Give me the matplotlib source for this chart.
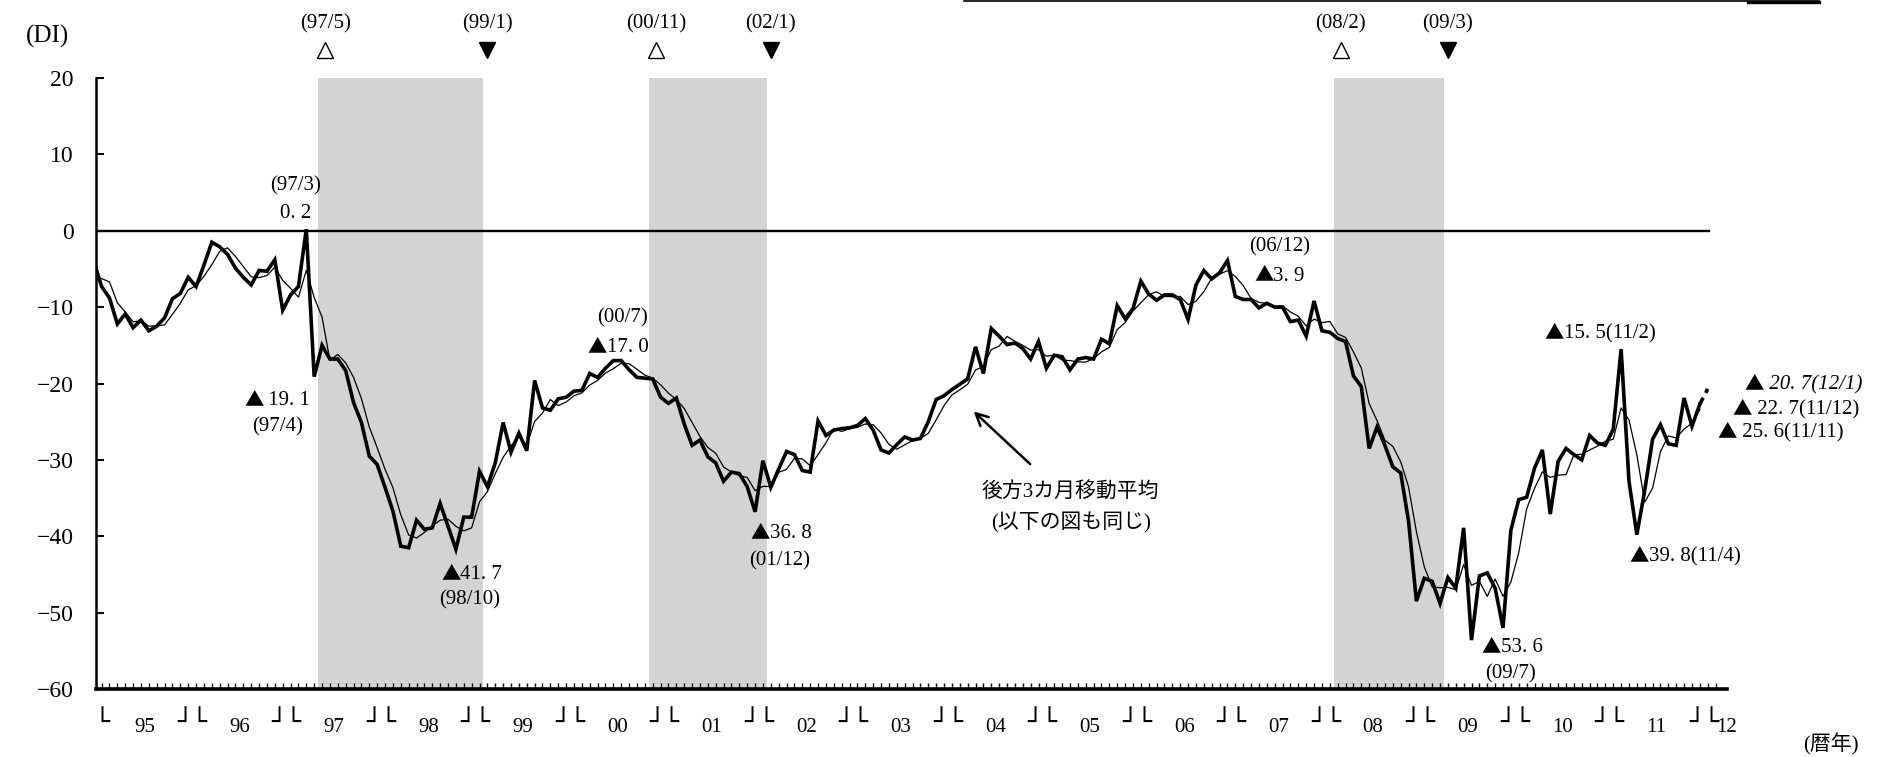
import numpy as np
import pandas as pd
import matplotlib
matplotlib.use("Agg")
import matplotlib.pyplot as plt
from matplotlib.lines import Line2D
from matplotlib.offsetbox import TextArea, HPacker, AnnotationBbox

# ---------------- data (monthly DI) ----------------
di_1994 = [-7.5, -4.0]  # 1994 Nov, Dec
di_1995 = [-7.3, -8.8, -12.2, -10.9, -12.7, -11.7, -13.1, -12.5, -11.4, -8.9, -8.2, -6.1]
di_1996 = [-7.3, -4.5, -1.5, -2.1, -3.1, -4.9, -6.1, -7.1, -5.2, -5.3, -3.8, -10.4]
di_1997 = [-8.4, -7.3, 0.2, -19.1, -15.0, -16.8, -16.8, -18.3, -22.5, -25.1, -29.5, -30.6]
di_1998 = [-33.6, -36.7, -41.3, -41.5, -37.9, -39.1, -38.9, -35.7, -38.7, -41.7, -37.5, -37.5]
di_1999 = [-31.5, -33.5, -30.4, -25.1, -29.0, -26.5, -28.8, -19.6, -23.2, -23.5, -22.0, -21.8]
di_2000 = [-21.0, -20.9, -18.7, -19.2, -18.0, -17.0, -17.0, -18.2, -19.2, -19.3, -19.4, -21.8]
di_2001 = [-22.6, -21.9, -25.3, -28.1, -27.4, -29.6, -30.4, -32.8, -31.6, -31.8, -33.5, -36.8]
di_2002 = [-30.1, -33.6, -31.2, -28.9, -29.3, -31.4, -31.6, -24.9, -26.8, -26.1, -25.9, -25.8]
di_2003 = [-25.5, -24.6, -26.1, -28.7, -29.1, -28.0, -27.0, -27.4, -27.2, -25.0, -22.1, -21.6]
di_2004 = [-20.8, -20.1, -19.4, -15.2, -18.7, -12.8, -13.8, -14.9, -14.7, -15.4, -16.8, -14.5]
di_2005 = [-18.0, -16.3, -16.5, -18.2, -16.8, -16.6, -16.8, -14.2, -14.8, -9.8, -11.5, -10.2]
di_2006 = [-6.6, -8.3, -9.1, -8.4, -8.4, -9.0, -11.6, -7.1, -5.2, -6.3, -5.5, -3.9]
di_2007 = [-8.6, -9.0, -9.0, -10.1, -9.5, -10.0, -10.0, -11.9, -11.7, -13.8, -9.2, -13.1]
di_2008 = [-13.3, -14.1, -14.5, -19.0, -20.4, -28.5, -25.7, -28.1, -30.9, -31.7, -38.0, -48.5]
di_2009 = [-45.5, -45.9, -48.8, -45.4, -46.8, -38.9, -53.6, -45.2, -44.8, -46.8, -52.0, -39.2]
di_2010 = [-35.2, -34.9, -31.1, -28.7, -37.1, -30.2, -28.5, -29.3, -30.0, -26.8, -27.8, -28.1]
di_2011 = [-26.0, -15.5, -32.8, -39.8, -34.0, -27.3, -25.4, -27.9, -28.1, -21.9, -25.6, -22.7]
di_2012 = [-20.7]

year_labels = ["95", "96", "97", "98", "99", "00", "01", "02", "03", "04", "05",
               "06", "07", "08", "09", "10", "11"]
# recession shading (peak month index, trough month index; 0 = 1995/1)
peaks = [28, 70, 157]
troughs = [48, 84, 170]
peak_labels = ["(97/5)", "(00/11)", "(08/2)"]
trough_labels = ["(99/1)", "(02/1)", "(09/3)"]

raw = (di_1994 + di_1995 + di_1996 + di_1997 + di_1998 + di_1999 + di_2000 + di_2001 +
       di_2002 + di_2003 + di_2004 + di_2005 + di_2006 + di_2007 + di_2008 + di_2009 +
       di_2010 + di_2011 + di_2012)
idx = np.arange(-2, -2 + len(raw))
s = pd.Series(raw, index=idx)
ma = s.rolling(3).mean()

# ---------------- figure ----------------
W, H = 1881, 757
fig = plt.figure(figsize=(W / 100, H / 100), dpi=100)
ax = fig.add_axes([95.7 / W, 1 - 689 / H, (1727 - 95.7) / W, (689 - 78) / H])
ax.set_xlim(-0.75, 206.45)
ax.set_ylim(-60, 20)

SERIF = ["Liberation Serif", "Noto Sans CJK JP", "DejaVu Sans"]
JP = ["Liberation Serif", "Noto Sans CJK JP", "DejaVu Sans"]

for p, t in zip(peaks, troughs):
    ax.axvspan(p - 0.5, t + 0.5, color="#d3d3d3", lw=0, zorder=0)

ax.plot([-0.75, 204.2], [0, 0], color="black", lw=1.7, zorder=2)

solid = s.loc[:203]
ax.plot(solid.index, solid.values, color="black", lw=2.6, zorder=4,
        solid_joinstyle="miter")
ax.plot(s.loc[203:].index, s.loc[203:].values, color="black", lw=2.6,
        ls=(0, (2, 1.5)), zorder=4)
mm = ma.loc[:203]
ax.plot(mm.index, mm.values, color="black", lw=0.9, zorder=3)

for side in ["top", "right"]:
    ax.spines[side].set_visible(False)
ax.spines["left"].set_linewidth(1.8)
ax.spines["bottom"].set_linewidth(2.6)

ax.set_yticks(range(-60, 21, 10))
ax.tick_params(axis="y", direction="in", length=6, width=1.5, pad=16, labelsize=17)
for lab in ax.get_yticklabels():
    lab.set_family(SERIF)
ax.set_xticks(np.arange(0, 206))
ax.tick_params(axis="x", direction="in", length=4, width=1.0, labelbottom=False)

# year labels along bottom
BOX = dict(va="center", fontsize=18, family="DejaVu Sans")
ax.text(0.0, -64.4, "└", ha="center", **BOX)
for k, yl in enumerate(year_labels):
    ax.text(12 * k + 5.5, -65.0, yl, ha="center", va="center", fontsize=15, family=SERIF)
    ax.text(12 * k + 11.5, -64.4, "┘└", ha="center", **BOX)
ax.text(205.1, -65.0, "12", ha="left", va="center", fontsize=15, family=SERIF)
fig.text(1831 / W, 1 - 744 / H, "(暦年)", ha="center", va="center", fontsize=15, family=JP)
fig.text(48 / W, 1 - 36 / H, "(DI)", ha="center", va="center", fontsize=18, family=SERIF)

# turning-point markers at top
for p, lbl in zip(peaks, peak_labels):
    ax.text(p + 0.4, 27.1, lbl, ha="center", va="center", fontsize=15, family=SERIF)
    ax.plot([p + 0.4], [23.7], marker="^", ms=12, mfc="white", mec="black", mew=1.0,
            clip_on=False)
for t, lbl in zip(troughs, trough_labels):
    ax.text(t + 1.0, 27.1, lbl, ha="center", va="center", fontsize=15, family=SERIF)
    ax.plot([t + 1.0], [23.7], marker="v", ms=12, color="black", clip_on=False)


def tri(x, y, rest, xa=0.5, italic=False):
    """'▲' (full-width glyph) followed by serif text."""
    parts = [TextArea("▲", textprops=dict(fontsize=14, family="Noto Sans CJK JP")),
             TextArea(rest, textprops=dict(fontsize=15, family="Liberation Serif",
                                           style="italic" if italic else "normal"))]
    box = HPacker(children=parts, align="baseline", pad=0, sep=0)
    ab = AnnotationBbox(box, (x, y), xycoords="data", frameon=False,
                        box_alignment=(xa, 0.5), annotation_clip=False, zorder=6)
    ax.add_artist(ab)


# annotations
ann = dict(ha="center", va="center", fontsize=15, family=SERIF)
ax.text(24.6, 5.9, "(97/3)", **ann)
ax.text(24.6, 2.2, "0. 2", **ann)
tri(22.3, -22.1, " 19. 1")
ax.text(22.3, -25.7, "(97/4)", **ann)
tri(47.0, -44.9, "41. 7")
ax.text(46.8, -48.3, "(98/10)", **ann)
ax.text(66.1, -11.4, "(00/7)", **ann)
tri(65.6, -15.2, "17. 0")
tri(86.3, -39.5, "36. 8")
ax.text(86.1, -43.2, "(01/12)", **ann)
ax.text(149.6, -2.1, "(06/12)", **ann)
tri(149.6, -5.8, "3. 9")
tri(179.2, -54.5, "53. 6")
ax.text(179.0, -58.0, "(09/7)", **ann)
tri(190.3, -13.4, "15. 5(11/2)")
tri(201.1, -42.6, "39. 8(11/4)")
tri(208.7, -20.0, " 20. 7(12/1)", xa=0.0, italic=True)
tri(207.1, -23.3, " 22. 7(11/12)", xa=0.0)
tri(205.2, -26.3, " 25. 6(11/11)", xa=0.0)

ax.text(123.1, -34.2, "後方3カ月移動平均", ha="center", va="center", fontsize=15, family=JP)
ax.text(123.1, -38.2, "(以下の図も同じ)", ha="center", va="center", fontsize=15, family=JP)
ax.annotate("", xy=(110.5, -23.4), xytext=(118.2, -30.8),
            arrowprops=dict(arrowstyle="->", lw=1.8, color="black", mutation_scale=22))

# thin border fragments at the very top of the image
fig.add_artist(Line2D([964 / W, 1819 / W], [1 - 1.2 / H, 1 - 1.2 / H],
                      transform=fig.transFigure, color="black", lw=1.2))
fig.add_artist(Line2D([1748 / W, 1819 / W], [1 - 1.5 / H, 1 - 1.5 / H],
                      transform=fig.transFigure, color="black", lw=2.4))

fig.savefig("out.png", dpi=100)
